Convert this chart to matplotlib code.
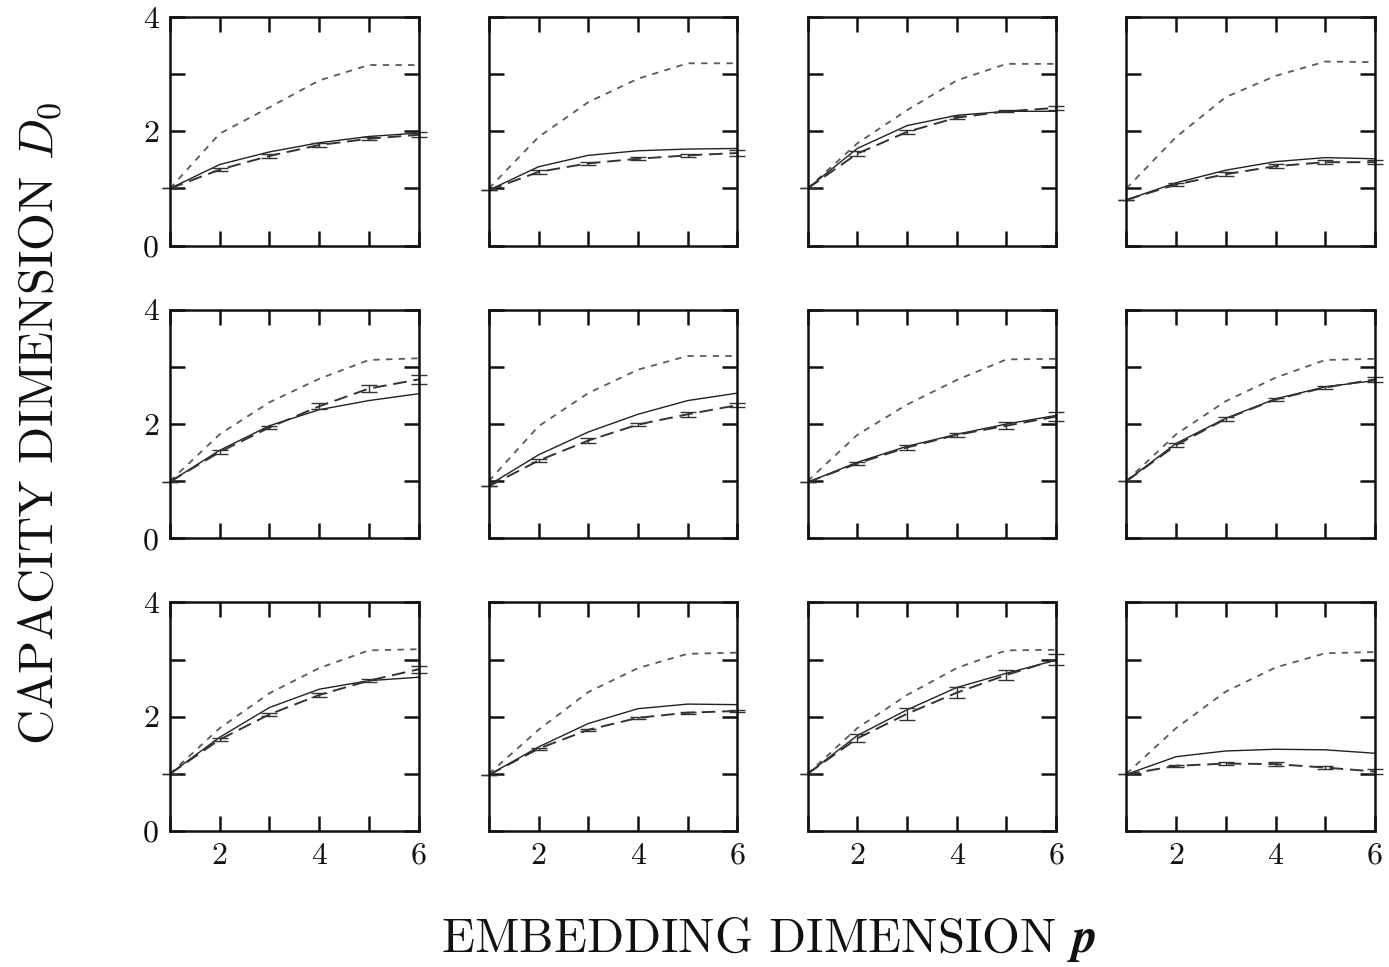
import matplotlib
matplotlib.use("Agg")
import matplotlib.pyplot as plt

plt.rcParams['font.family'] = ['cmr10', 'DejaVu Serif']
plt.rcParams['mathtext.fontset'] = 'cm'
plt.rcParams['axes.formatter.use_mathtext'] = True

p = [1, 2, 3, 4, 5, 6]

# solid curves (row-major panels)
solid_values = [
    [1.00, 1.42, 1.64, 1.80, 1.91, 1.97],
    [0.97, 1.38, 1.58, 1.66, 1.69, 1.70],
    [1.00, 1.70, 2.10, 2.28, 2.35, 2.35],
    [0.80, 1.10, 1.32, 1.47, 1.54, 1.52],
    [0.99, 1.54, 1.97, 2.25, 2.41, 2.53],
    [0.93, 1.46, 1.86, 2.17, 2.41, 2.54],
    [0.98, 1.33, 1.61, 1.82, 2.00, 2.15],
    [1.00, 1.66, 2.10, 2.44, 2.65, 2.76],
    [1.00, 1.64, 2.16, 2.48, 2.63, 2.69],
    [0.98, 1.47, 1.88, 2.14, 2.22, 2.21],
    [1.00, 1.67, 2.12, 2.51, 2.76, 2.99],
    [0.99, 1.30, 1.40, 1.43, 1.42, 1.36],
]

# dashed curves with error bars
dashed_values = [
    [1.00, 1.33, 1.57, 1.76, 1.87, 1.94],
    [0.97, 1.29, 1.44, 1.52, 1.58, 1.62],
    [1.00, 1.61, 1.99, 2.24, 2.35, 2.41],
    [0.80, 1.07, 1.25, 1.39, 1.46, 1.46],
    [0.99, 1.51, 1.94, 2.31, 2.62, 2.78],
    [0.91, 1.36, 1.71, 1.99, 2.17, 2.33],
    [0.98, 1.31, 1.59, 1.81, 1.97, 2.13],
    [1.00, 1.63, 2.09, 2.43, 2.64, 2.78],
    [1.00, 1.60, 2.04, 2.38, 2.63, 2.83],
    [0.98, 1.44, 1.77, 1.98, 2.07, 2.10],
    [1.00, 1.62, 2.05, 2.42, 2.73, 3.00],
    [0.99, 1.14, 1.18, 1.17, 1.11, 1.04],
]

dashed_err = [
    [0.00, 0.03, 0.03, 0.03, 0.03, 0.04],
    [0.00, 0.03, 0.03, 0.03, 0.03, 0.06],
    [0.00, 0.04, 0.03, 0.02, 0.02, 0.03],
    [0.00, 0.03, 0.03, 0.03, 0.03, 0.03],
    [0.00, 0.03, 0.03, 0.05, 0.06, 0.08],
    [0.00, 0.03, 0.04, 0.03, 0.04, 0.04],
    [0.00, 0.03, 0.04, 0.04, 0.06, 0.08],
    [0.00, 0.03, 0.03, 0.02, 0.02, 0.05],
    [0.00, 0.03, 0.03, 0.04, 0.03, 0.06],
    [0.00, 0.02, 0.02, 0.02, 0.02, 0.02],
    [0.00, 0.07, 0.10, 0.10, 0.09, 0.09],
    [0.00, 0.02, 0.03, 0.03, 0.03, 0.04],
]

# dotted reference curves
dotted_values = [
    [1.00, 1.96, 2.42, 2.89, 3.16, 3.16],
    [1.00, 1.90, 2.51, 2.92, 3.19, 3.19],
    [1.00, 1.79, 2.37, 2.89, 3.18, 3.18],
    [1.00, 1.90, 2.60, 2.97, 3.22, 3.21],
    [1.00, 1.82, 2.38, 2.79, 3.12, 3.15],
    [1.00, 1.96, 2.54, 2.95, 3.19, 3.19],
    [1.00, 1.81, 2.34, 2.77, 3.13, 3.14],
    [1.00, 1.82, 2.40, 2.81, 3.12, 3.14],
    [1.00, 1.80, 2.41, 2.85, 3.16, 3.18],
    [1.00, 1.77, 2.43, 2.85, 3.10, 3.12],
    [1.00, 1.80, 2.38, 2.85, 3.16, 3.17],
    [1.00, 1.80, 2.44, 2.86, 3.11, 3.13],
]

x_ticks = [1, 2, 3, 4, 5, 6]
x_ticklabels = ['', '2', '', '4', '', '6']
y_ticks = [0, 1, 2, 3, 4]
y_ticklabels = ['0', '', '2', '', '4']

fig, axes = plt.subplots(3, 4, figsize=(13.89, 9.67), dpi=100)
fig.subplots_adjust(left=170/1389, right=1375/1389, top=1-17/967, bottom=1-831/967,
                    wspace=0.282, hspace=0.28)

for i, ax in enumerate(axes.flat):
    r, c = divmod(i, 4)
    ax.plot(p, dotted_values[i], color='#5a5a5a', lw=1.3, ls=(0, (3.5, 3.5)))
    ax.plot(p, solid_values[i], color='#222222', lw=1.0, ls='-')
    ax.errorbar(p, dashed_values[i], yerr=dashed_err[i], color='#333333', lw=1.4,
                ls=(0, (7, 3.5)), elinewidth=1.0, capsize=5.5, capthick=1.0,
                clip_on=False)
    ax.set_xlim(1, 6)
    ax.set_ylim(0, 4)
    ax.set_xticks(x_ticks)
    ax.set_yticks(y_ticks)
    ax.set_xticklabels(x_ticklabels if r == 2 else [''] * 6)
    ax.set_yticklabels(y_ticklabels if c == 0 else [''] * 5)
    ax.tick_params(direction='in', length=11, width=1.8, top=True, right=True,
                   labelsize=23, pad=8, colors='#111111')
    for s in ax.spines.values():
        s.set_linewidth(1.8)
        s.set_color('#111111')

fig.text(40/1389, 1-423/967, r'CAPACITY DIMENSION $D_0$', rotation=90,
         ha='center', va='center', fontsize=35, color='#111111')
fig.text(768/1389, 1-940/967, r'EMBEDDING DIMENSION $\mathbfit{p}$',
         ha='center', va='center', fontsize=35, color='#111111')

try:
    fig.canvas.draw()
except Exception:
    fig.texts[-1].set_text(r'EMBEDDING DIMENSION $\mathbf{p}$')

fig.savefig('out.png', dpi=100, facecolor='white')
